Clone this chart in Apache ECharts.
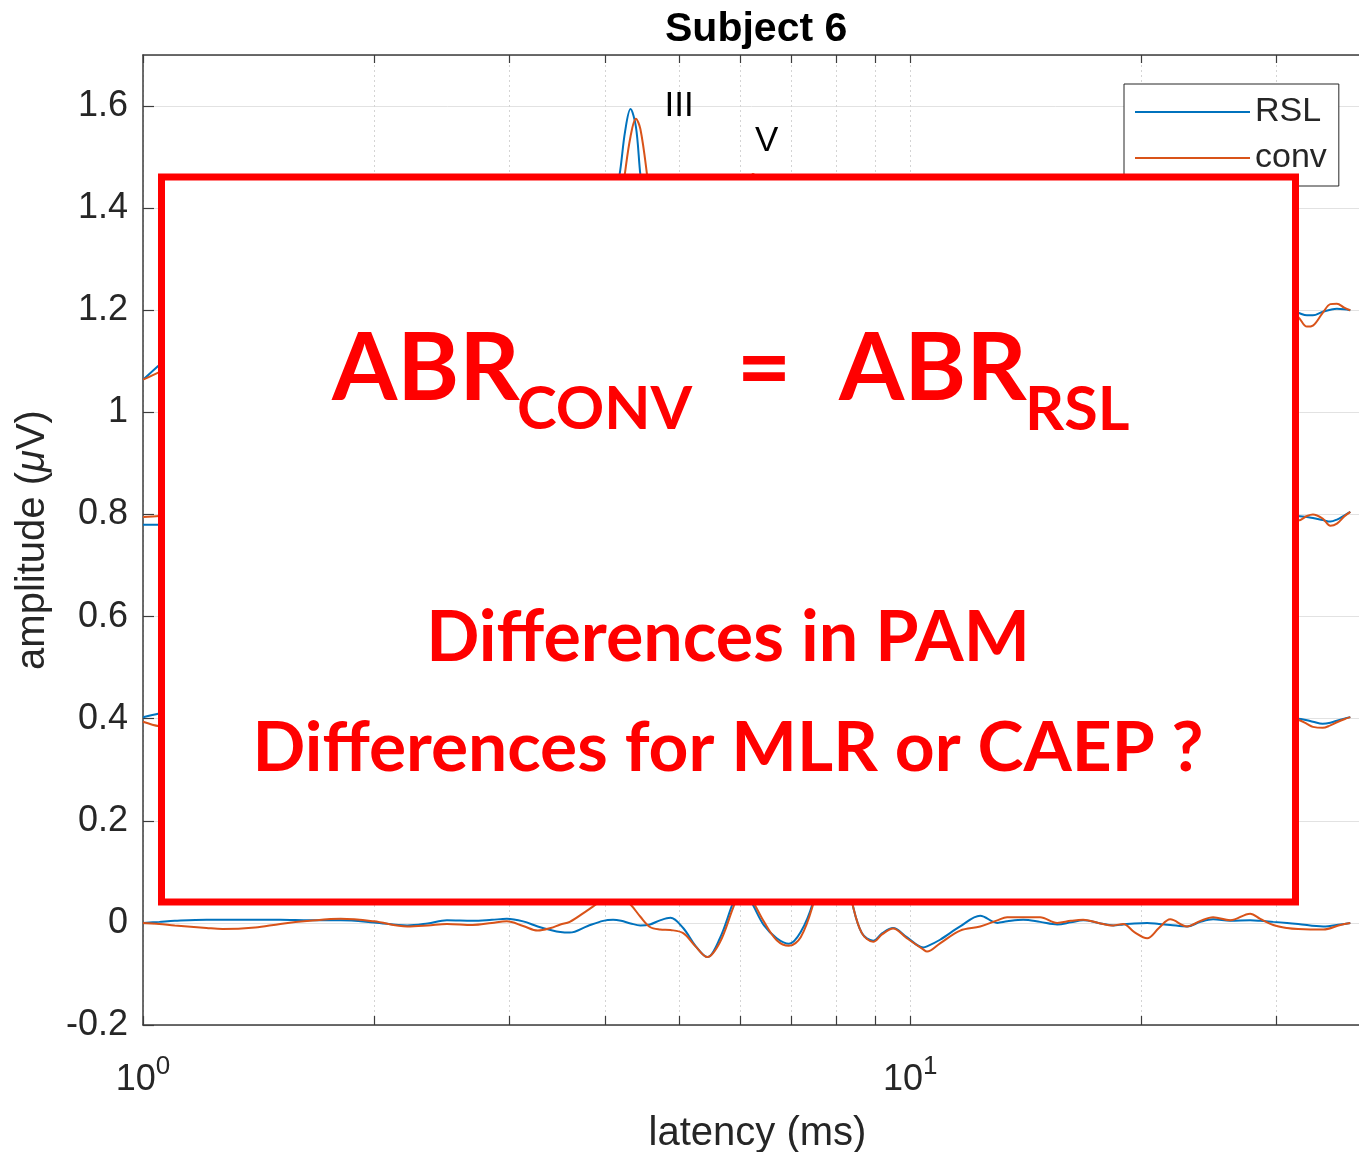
<!DOCTYPE html>
<html>
<head>
<meta charset="utf-8">
<script src="https://cdn.jsdelivr.net/npm/echarts@6/dist/echarts.min.js"></script>
<style>
html,body{margin:0;padding:0;background:#ffffff;}
#chart{width:1359px;height:1152px;}
</style>
</head>
<body>
<div id="chart"></div>
<script>
// ---------------- DATA ----------------
// Lowest trace (baseline 0): latency in ms
const latency0 = [1.00,1.05,1.10,1.21,1.27,1.40,1.51,1.65,1.81,2.00,2.21,2.35,2.49,2.69,2.85,2.98,3.13,3.27,3.40,3.50,
  3.60,3.80,3.98,4.10,4.20,4.32,4.45,4.58,4.72,4.87,5.06,5.25,5.44,5.65,5.88,6.00,6.12,6.24,6.45,6.70,
  6.95,7.20,7.47,7.70,7.91,8.15,8.40,8.65,8.95,9.20,9.50,9.90,10.40,10.52,10.94,11.62,12.34,12.99,13.38,14.04,
  14.77,15.55,16.20,16.81,17.60,18.40,18.96,19.60,20.37,21.10,21.83,22.96,23.90,24.83,26.14,27.75,28.60,29.74,31.00,32.05,
  34.55,36.37,37.48];
const rsl0 = [0.000,0.002,0.004,0.006,0.006,0.006,0.006,0.005,0.005,0.001,-0.005,-0.001,0.005,0.004,0.006,0.008,0.003,-0.007,-0.014,-0.018,
  -0.019,-0.006,0.004,0.006,0.004,-0.001,-0.005,-0.003,0.005,0.010,-0.010,-0.045,-0.067,-0.030,0.040,0.065,0.058,0.035,-0.005,-0.030,
  -0.041,-0.018,0.040,0.130,0.170,0.130,0.040,-0.020,-0.035,-0.020,-0.010,-0.028,-0.048,-0.046,-0.033,-0.007,0.014,0.000,0.003,0.006,
  0.002,-0.003,0.001,0.005,0.000,-0.005,-0.003,-0.001,0.000,-0.002,-0.004,-0.007,0.002,0.007,0.004,0.005,0.004,0.002,0.000,-0.002,
  -0.007,-0.003,0.000];
const conv0 = [0.000,-0.002,-0.005,-0.010,-0.012,-0.009,-0.002,0.004,0.008,0.003,-0.007,-0.005,-0.002,-0.004,0.000,0.003,-0.006,-0.015,-0.010,-0.003,
  0.002,0.025,0.045,0.052,0.050,0.036,0.012,-0.008,-0.013,-0.014,-0.020,-0.046,-0.067,-0.038,0.030,0.060,0.062,0.042,0.002,-0.034,
  -0.045,-0.028,0.035,0.120,0.160,0.130,0.040,-0.020,-0.037,-0.022,-0.011,-0.030,-0.052,-0.056,-0.040,-0.015,-0.007,0.005,0.011,0.011,
  0.011,0.000,0.004,0.006,0.000,-0.005,-0.002,-0.018,-0.030,-0.010,0.007,-0.007,0.004,0.011,0.005,0.018,0.008,-0.004,-0.010,-0.012,
  -0.013,-0.004,0.000];

// Upper traces (baselines 0.4, 0.8, 1.2): latency in ms
const latencyUp = [1.00,1.05,1.12,1.25,1.50,1.80,2.10,2.50,3.00,3.40,3.80,4.05,4.18,4.25,4.32,4.39,4.45,4.54,4.65,4.90,
  5.20,5.50,5.80,6.05,6.24,6.45,6.80,7.30,7.80,8.50,9.50,11.0,13.0,15.5,18.0,21.0,25.0,29.0,31.0,32.05,
  32.9,33.5,34.5,35.3,36.0,36.8,37.48];
const rsl04 = [0.403,0.410,0.42,0.42,0.41,0.40,0.41,0.40,0.39,0.40,0.42,0.44,0.46,0.48,0.50,0.52,0.54,0.56,0.58,0.56,
  0.48,0.42,0.45,0.52,0.58,0.63,0.64,0.52,0.36,0.33,0.37,0.40,0.41,0.40,0.39,0.40,0.41,0.40,0.40,0.400,
  0.397,0.394,0.390,0.392,0.396,0.400,0.403];
const conv04 = [0.394,0.385,0.38,0.39,0.40,0.40,0.41,0.40,0.39,0.40,0.41,0.43,0.45,0.46,0.48,0.50,0.52,0.55,0.57,0.57,
  0.50,0.43,0.44,0.50,0.56,0.62,0.65,0.54,0.37,0.33,0.37,0.40,0.41,0.40,0.40,0.40,0.41,0.40,0.40,0.398,
  0.390,0.384,0.382,0.387,0.393,0.399,0.403];
const rsl08 = [0.780,0.780,0.782,0.785,0.79,0.80,0.82,0.81,0.79,0.80,0.85,0.90,0.95,0.98,1.00,1.01,1.00,0.97,0.92,0.82,
  0.78,0.82,0.92,1.00,1.04,1.02,0.90,0.72,0.70,0.75,0.78,0.80,0.81,0.80,0.79,0.80,0.80,0.80,0.80,0.797,
  0.795,0.793,0.789,0.786,0.790,0.798,0.805];
const conv08 = [0.795,0.797,0.80,0.80,0.80,0.80,0.82,0.81,0.79,0.80,0.83,0.88,0.92,0.95,0.98,1.00,1.00,0.98,0.94,0.84,
  0.78,0.81,0.90,0.98,1.03,1.03,0.92,0.74,0.70,0.75,0.77,0.80,0.81,0.80,0.80,0.80,0.81,0.80,0.79,0.788,
  0.797,0.800,0.792,0.778,0.782,0.796,0.805];
const rsl12 = [1.064,1.093,1.13,1.16,1.18,1.21,1.25,1.22,1.20,1.18,1.22,1.36,1.465,1.55,1.594,1.56,1.465,1.36,1.25,1.12,
  1.10,1.18,1.33,1.42,1.445,1.38,1.15,1.02,1.05,1.12,1.15,1.18,1.21,1.20,1.19,1.21,1.20,1.19,1.20,1.195,
  1.190,1.190,1.197,1.201,1.203,1.202,1.200];
const conv12 = [1.064,1.079,1.10,1.14,1.17,1.20,1.24,1.22,1.19,1.17,1.19,1.28,1.38,1.47,1.54,1.575,1.555,1.465,1.33,1.14,
  1.10,1.16,1.31,1.42,1.467,1.40,1.16,1.03,1.04,1.11,1.16,1.18,1.20,1.21,1.19,1.20,1.21,1.19,1.20,1.187,
  1.168,1.170,1.195,1.212,1.213,1.205,1.200];

// Axis ticks / labels
const xTickValues = [1,2,3,4,5,6,7,8,9,10,20,30];
const xLabelValues = [1,10];
const xLabelExponents = ['0','1'];
const legendNames = ['RSL','conv'];
const peakLabels = ['III','V'];
const peakLatency = [5.0, 6.5];
const peakAmplitude = [1.6, 1.53];

// ---------------- CHART ----------------
const BLUE = '#0072BD', ORANGE = '#D95319';
const AX = '#3c3c3c', TXT = '#262626';
const FONT = 'Liberation Sans, Arial, sans-serif';
const chart = echarts.init(document.getElementById('chart'), null, {renderer:'canvas'});

function pairs(t, v){ return t.map((x,i)=>[x, v[i]]); }
function mk(name, t, v, color, extra){
  return Object.assign({
    name, type:'line', xAxisIndex:0, yAxisIndex:0,
    data: pairs(t, v), showSymbol:false, symbol:'none', smooth:0.35,
    lineStyle:{color, width:2}, itemStyle:{color}, emphasis:{disabled:true},
    animation:false, silent:true
  }, extra || {});
}

const series = [
  mk(legendNames[0], latency0, rsl0, BLUE),
  mk(legendNames[0], latencyUp, rsl04, BLUE),
  mk(legendNames[0], latencyUp, rsl08, BLUE),
  mk(legendNames[0], latencyUp, rsl12, BLUE, {
    markPoint:{
      symbol:'circle', symbolSize:0, silent:true, animation:false,
      label:{show:true, position:'inside', formatter:'{b}', fontSize:35, fontFamily:FONT, color:'#000'},
      data: peakLabels.map((n,i)=>({name:n, coord:[peakLatency[i], peakAmplitude[i]]}))
    }
  }),
  mk(legendNames[1], latency0, conv0, ORANGE),
  mk(legendNames[1], latencyUp, conv04, ORANGE),
  mk(legendNames[1], latencyUp, conv08, ORANGE),
  mk(legendNames[1], latencyUp, conv12, ORANGE)
];

const xLabelRich = {
  b:{fontSize:36, fontFamily:FONT, color:TXT, lineHeight:44, verticalAlign:'bottom'},
  s:{fontSize:26, fontFamily:FONT, color:TXT, lineHeight:10, verticalAlign:'top'}
};

const option = {
  backgroundColor:'#ffffff',
  animation:false,
  title:{
    text:'Subject 6', left:665, top:9, padding:0,
    textStyle:{fontFamily:FONT, fontWeight:'bold', fontSize:41, color:'#000'}
  },
  legend:{
    data: legendNames, orient:'vertical', left:1124, top:84,
    padding:[9,12,9,11], itemGap:8, itemWidth:115, itemHeight:2, itemTextGap:8,
    icon:'rect',
    backgroundColor:'#ffffff', borderColor:'#262626', borderWidth:1, borderRadius:0,
    textStyle:{fontFamily:FONT, fontSize:34, color:TXT, lineHeight:38},
    selectedMode:false
  },
  grid:{left:143, top:55, width:1229, height:970, containLabel:false, outerBoundsMode:'none'},
  xAxis:[{
    type:'log', logBase:10, min:1, max:40,
    name:'latency (ms)', nameLocation:'middle', nameGap:89,
    nameTextStyle:{fontFamily:FONT, fontSize:40, color:TXT},
    axisLine:{show:true, onZero:false, lineStyle:{color:AX, width:1.5}},
    axisTick:{show:true, inside:true, length:9, customValues:xTickValues, lineStyle:{color:AX, width:1.2}},
    minorTick:{show:false},
    axisLabel:{
      show:true, margin:29, customValues:xLabelValues,
      formatter:(v)=>{ const i = xLabelValues.indexOf(Math.round(v)); return i<0 ? '' : '{b|10}{s|'+xLabelExponents[i]+'}'; },
      rich:xLabelRich
    },
    splitLine:{show:true, lineStyle:{color:'#d4d4d4', width:1, type:[2,3]}}
  },{
    type:'log', logBase:10, min:1, max:40, position:'top',
    axisLine:{show:true, onZero:false, lineStyle:{color:AX, width:1.5}},
    axisTick:{show:true, inside:true, length:8, customValues:xTickValues, lineStyle:{color:AX, width:1.2}},
    axisLabel:{show:false},
    splitLine:{show:false}
  }],
  yAxis:{
    type:'value', min:-0.2, max:1.7, interval:0.2,
    name:'amplitude ({mu|μ}V)', nameLocation:'middle', nameGap:90, nameRotate:90,
    nameTextStyle:{fontFamily:FONT, fontSize:40, color:TXT,
      rich:{mu:{fontFamily:FONT, fontSize:40, color:TXT, fontStyle:'italic'}}},
    axisLine:{show:true, onZero:false, lineStyle:{color:AX, width:1.5}},
    axisTick:{show:true, inside:true, length:11, lineStyle:{color:AX, width:1.2}},
    axisLabel:{show:true, margin:15, showMaxLabel:false, fontFamily:FONT, fontSize:36, color:TXT},
    splitLine:{show:true, lineStyle:{color:'#e2e2e2', width:1}}
  },
  series: series,
  graphic:[
    {type:'rect', z:100, silent:true,
     shape:{x:161.5, y:177, width:1134, height:725},
     style:{fill:'#ffffff', stroke:'#ff0000', lineWidth:7}},
    {type:'text', z:101, silent:true, x:332, y:370,
     style:{text:'ABR', fontFamily:'Lato', fontWeight:'bold', fontSize:94, fill:'#ff0000', align:'left', verticalAlign:'middle'}},
    {type:'text', z:101, silent:true, x:517, y:410,
     style:{text:'CONV', fontFamily:'Lato', fontWeight:'bold', fontSize:60, fill:'#ff0000', align:'left', verticalAlign:'middle'}},
    {type:'text', z:101, silent:true, x:764, y:370,
     style:{text:'=', fontFamily:'Lato', fontWeight:'bold', fontSize:94, fill:'#ff0000', align:'center', verticalAlign:'middle'}},
    {type:'text', z:101, silent:true, x:839, y:370,
     style:{text:'ABR', fontFamily:'Lato', fontWeight:'bold', fontSize:94, fill:'#ff0000', align:'left', verticalAlign:'middle'}},
    {type:'text', z:101, silent:true, x:1025, y:410,
     style:{text:'RSL', fontFamily:'Lato', fontWeight:'bold', fontSize:61, fill:'#ff0000', align:'left', verticalAlign:'middle'}},
    {type:'text', z:101, silent:true, x:728, y:638,
     style:{text:'Differences in PAM', fontFamily:'Lato', fontWeight:'bold', fontSize:70, fill:'#ff0000', align:'center', verticalAlign:'middle'}},
    {type:'text', z:101, silent:true, x:728, y:749,
     style:{text:'Differences for MLR or CAEP ?', fontFamily:'Lato', fontWeight:'bold', fontSize:69.5, fill:'#ff0000', align:'center', verticalAlign:'middle'}}
  ]
};
chart.setOption(option);
</script>
</body>
</html>
